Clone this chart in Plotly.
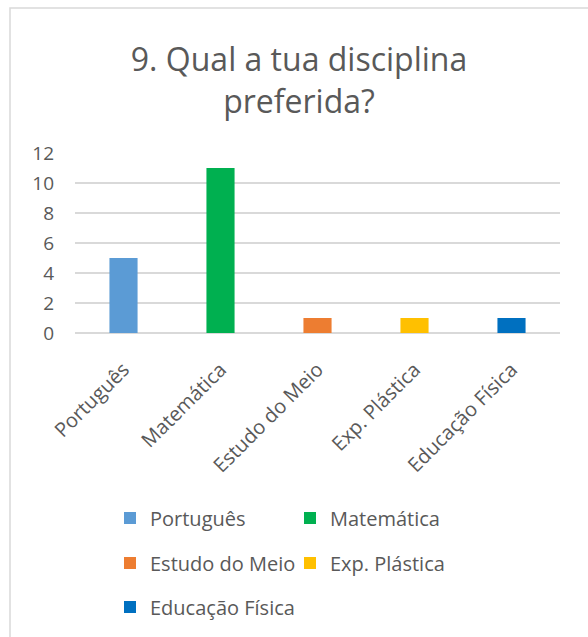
import plotly.graph_objects as go

categories = ["Português", "Matemática", "Estudo do Meio", "Exp. Plástica", "Educação Física"]
values = [5, 11, 1, 1, 1]
colors = ["#5B9BD5", "#00B050", "#ED7D31", "#FFC000", "#0070C0"]
y_ticks = [0, 2, 4, 6, 8, 10, 12]

W, H = 588, 637
grey = "#595959"
font_family = "Open Sans, sans-serif"

# legend slot for each bar: (legend id, left px, centre y px)
legend_slots = [
    ("legend", 110, 518),
    ("legend2", 290, 518),
    ("legend3", 110, 563),
    ("legend4", 290, 563),
    ("legend5", 110, 607),
]

fig = go.Figure()

for i, cat in enumerate(categories):
    fig.add_trace(go.Bar(
        x=[cat], y=[values[i]],
        name=cat,
        marker=dict(color=colors[i], line=dict(width=0)),
        width=0.29,
        legend=legend_slots[i][0],
        hoverinfo="x+y",
    ))

layout_legends = {}
for lid, px, py in legend_slots:
    layout_legends[lid] = dict(
        xref="container", yref="container",
        x=px / W, y=1 - py / H,
        xanchor="left", yanchor="middle",
        bgcolor="rgba(0,0,0,0)",
        font=dict(family=font_family, size=20, color=grey),
        itemclick=False, itemdoubleclick=False,
    )

fig.update_layout(
    width=W, height=H,
    margin=dict(l=75, r=28, t=153, b=304, autoexpand=False),
    paper_bgcolor="white",
    plot_bgcolor="white",
    barmode="overlay",
    showlegend=True,
    title=dict(
        text="9. Qual a tua disciplina<br>preferida?",
        x=299 / W, xanchor="center",
        y=1 - 71 / H, yanchor="middle",
        font=dict(family=font_family, size=32, color=grey),
    ),
    xaxis=dict(
        type="category",
        categoryorder="array", categoryarray=categories,
        tickangle=-45,
        tickfont=dict(family=font_family, size=20, color=grey),
        showgrid=False, zeroline=False, showline=False,
        ticks="",
        ticklabelstandoff=20,
    ),
    yaxis=dict(
        range=[0, 12],
        tickvals=y_ticks,
        tickfont=dict(family=font_family, size=19, color=grey),
        showgrid=True, gridcolor="#D9D9D9", gridwidth=1.5,
        zeroline=True, zerolinecolor="#D9D9D9", zerolinewidth=1.5,
        showline=False, ticks="",
        ticklabelstandoff=20,
    ),
    **layout_legends,
)

# light chart border (the picture is a crop of the Excel chart area)
fig.add_shape(
    type="rect", xref="paper", yref="paper",
    x0=(10 - 75) / 485, x1=1.5,
    y0=-3, y1=(333 - 8) / 180,
    line=dict(color="#D9D9D9", width=1.5),
    fillcolor="rgba(0,0,0,0)",
    layer="below",
)

fig.write_html("out.html", config={"displayModeBar": False},
               post_script="document.body.style.margin='0';")
